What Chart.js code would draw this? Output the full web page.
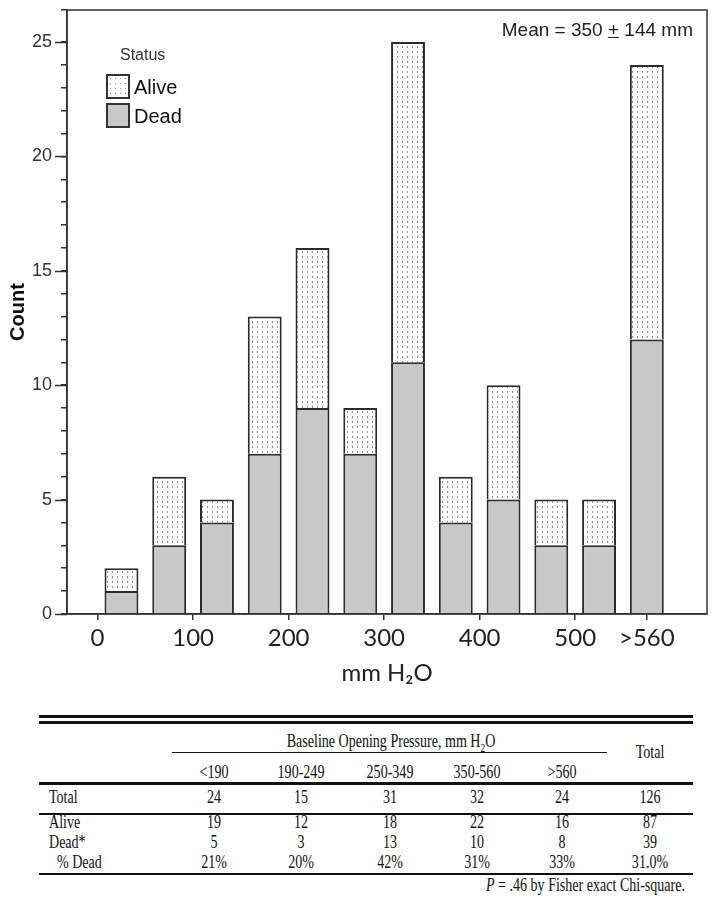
<!DOCTYPE html>
<html>
<head>
<meta charset="utf-8">
<script src="https://cdn.jsdelivr.net/npm/chart.js@4.4.0/dist/chart.umd.min.js"></script>
<style>
    body { margin: 0; background: #fff; width: 719px; height: 901px; overflow: hidden; position: relative; }
    #wrap { position: absolute; left: 0; top: 0; width: 719px; height: 700px; }
    .lg { position: absolute; font-family: "Liberation Sans", Arial, sans-serif; color: #111; }
    .sw { position: absolute; width: 20px; height: 21px; border: 2px solid #333; }
    .tx { position: absolute; font-family: "Liberation Serif", "Times New Roman", serif; font-size: 18px; color: #111; white-space: nowrap; line-height: 1; }
    .rule { position: absolute; background: #111; }
</style>
</head>
<body>
<div id="wrap"><canvas id="histograma" width="719" height="700"></canvas></div>

<div class="lg" style="left:120px;top:46px;font-size:16px;color:#333">Status</div>
<div class="sw" style="left:106px;top:74px;background-color:#fff;background-image:radial-gradient(#8a8a8a 0.7px, transparent 0.9px);background-size:5px 5px"></div>
<div class="lg" style="left:134px;top:76px;font-size:20px">Alive</div>
<div class="sw" style="left:106px;top:103px;background:#c8c8c8"></div>
<div class="lg" style="left:134px;top:105px;font-size:20px">Dead</div>
<div class="lg" style="right:26px;top:19px;font-size:19px;color:#222">Mean = 350 <u>+</u> 144 mm</div>

<div id="tabla"></div>

<script>
// histogram bins (mm H2O), centres of 50-wide bins
const binCenters = [25, 75, 125, 175, 225, 275, 325, 375, 425, 475, 525, 575];
const deadCounts = [1, 3, 4, 7, 9, 7, 11, 4, 5, 3, 3, 12];
const aliveCounts = [1, 3, 1, 6, 7, 2, 14, 2, 5, 2, 2, 12];
const xTickValues = [0, 100, 200, 300, 400, 500, 575];
const xTickLabels = ['0', '100', '200', '300', '400', '500', '>560'];
const yMajorTicks = [0, 5, 10, 15, 20, 25];

// table under the chart
const pressureGroups = ['<190', '190-249', '250-349', '350-560', '>560', 'Total'];
const rowLabels = ['Total', 'Alive', 'Dead*', '% Dead'];
const totalRow = ['24', '15', '31', '32', '24', '126'];
const aliveRow = ['19', '12', '18', '22', '16', '87'];
const deadRow = ['5', '3', '13', '10', '8', '39'];
const pctDeadRow = ['21%', '20%', '42%', '31%', '33%', '31.0%'];

window.addEventListener('DOMContentLoaded', () => {

    const crearPatronPuntos = () => {
        const c = document.createElement('canvas');
        c.width = 5; c.height = 5;
        const p = c.getContext('2d');
        p.fillStyle = '#ffffff';
        p.fillRect(0, 0, 5, 5);
        p.fillStyle = '#8c8c8c';
        p.fillRect(2, 1, 1, 2);
        return p.createPattern(c, 'repeat');
    };

    const marcoYTicks = {
        id: 'marcoYTicks',
        afterDraw(chart) {
            const { ctx, chartArea: a, scales: { y } } = chart;
            ctx.save();
            ctx.strokeStyle = '#333';
            ctx.lineWidth = 1.5;
            ctx.strokeRect(a.left, a.top, a.right - a.left, a.bottom - a.top);
            yMajorTicks.forEach((v) => {
                const py = Math.round(y.getPixelForValue(v)) + 0.5;
                ctx.beginPath();
                ctx.moveTo(a.left - 12, py);
                ctx.lineTo(a.left, py);
                ctx.stroke();
            });
            ctx.restore();
        }
    };

    const ctx = document.getElementById('histograma').getContext('2d');
    const puntos = crearPatronPuntos();

    const data = {
        datasets: [
            {
                label: 'Dead',
                data: binCenters.map((x, i) => ({ x, y: deadCounts[i] })),
                backgroundColor: '#c8c8c8',
                borderColor: '#2b2b2b',
                borderWidth: 2,
                barPercentage: 0.71,
                categoryPercentage: 1
            },
            {
                label: 'Alive',
                data: binCenters.map((x, i) => ({ x, y: aliveCounts[i] })),
                backgroundColor: puntos,
                borderColor: '#2b2b2b',
                borderWidth: 2,
                barPercentage: 0.71,
                categoryPercentage: 1
            }
        ]
    };

    new Chart(ctx, {
        type: 'bar',
        data,
        plugins: [marcoYTicks],
        options: {
            responsive: false,
            animation: false,
            layout: { padding: { top: 10, right: 12, left: 0, bottom: 0 } },
            plugins: { legend: { display: false }, tooltip: { enabled: false } },
            scales: {
                x: {
                    type: 'linear',
                    stacked: true,
                    offset: false,
                    min: -32,
                    max: 638,
                    afterBuildTicks: (s) => { s.ticks = xTickValues.map((v) => ({ value: v })); },
                    afterFit: (s) => { s.height = 86; s.paddingLeft = 0; s.paddingRight = 0; },
                    ticks: {
                        autoSkip: false,
                        maxRotation: 0,
                        padding: 4,
                        color: '#222',
                        font: { family: 'Lato', size: 24 },
                        callback: (v, i) => xTickLabels[i]
                    },
                    grid: { display: true, offset: false, drawOnChartArea: false, tickLength: 6, color: '#333', lineWidth: 1.5 },
                    border: { display: true, color: '#333', width: 1.5 },
                    title: {
                        display: true,
                        text: 'mm H\u2082O',
                        color: '#222',
                        font: { family: 'Lato', size: 24 },
                        padding: { top: 0, bottom: 12 }
                    }
                },
                y: {
                    stacked: true,
                    min: 0,
                    max: 26.4,
                    afterFit: (s) => { s.width = 67; s.paddingTop = 0; s.paddingBottom = 0; },
                    ticks: {
                        stepSize: 1,
                        autoSkip: false,
                        padding: 9,
                        color: '#333',
                        font: { family: 'Liberation Sans', size: 18 },
                        callback: (v) => (v % 5 === 0 ? v : '')
                    },
                    grid: { display: true, drawOnChartArea: false, tickLength: 6, color: '#333', lineWidth: 1.5 },
                    border: { display: true, color: '#333', width: 1.5 },
                    title: {
                        display: true,
                        text: 'Count',
                        color: '#111',
                        font: { family: 'Liberation Sans', size: 20, weight: 'bold' },
                        padding: { top: 6, bottom: 0 }
                    }
                }
            }
        }
    });

    // tabla
    const tabla = document.getElementById('tabla');
    const escala = 0.78;
    const colX = [214, 301, 390, 477, 562, 650];

    const texto = (html, x, y, align = 'center') => {
        const d = document.createElement('div');
        d.className = 'tx';
        d.innerHTML = html;
        d.style.left = x + 'px';
        d.style.top = y + 'px';
        let tr = 'translate(-50%,-50%)';
        let origin = 'center center';
        if (align === 'left') { tr = 'translate(0,-50%)'; origin = 'left center'; }
        if (align === 'right') { tr = 'translate(-100%,-50%)'; origin = 'right center'; }
        d.style.transformOrigin = origin;
        d.style.transform = tr + ' scaleX(' + escala + ')';
        tabla.appendChild(d);
    };

    const linea = (x1, x2, y, h) => {
        const d = document.createElement('div');
        d.className = 'rule';
        d.style.left = x1 + 'px';
        d.style.width = (x2 - x1) + 'px';
        d.style.top = y + 'px';
        d.style.height = h + 'px';
        tabla.appendChild(d);
    };

    linea(39, 693, 715, 3);
    linea(39, 693, 721, 3);
    linea(172, 607, 752, 1);
    linea(39, 693, 782, 3);
    linea(39, 693, 813, 2);
    linea(39, 693, 873, 2);

    const esc = (s) => s.replace('<', '&lt;').replace('>', '&gt;');

    texto('Baseline Opening Pressure, mm H<sub style="font-size:12px">2</sub>O', 391, 743);
    texto(pressureGroups[5], colX[5], 752);
    pressureGroups.slice(0, 5).forEach((g, i) => texto(esc(g), colX[i], 772));

    const filas = [totalRow, aliveRow, deadRow, pctDeadRow];
    const filaY = [797, 822, 842, 862];
    filas.forEach((fila, r) => {
        texto(rowLabels[r], r === 3 ? 57 : 49, filaY[r], 'left');
        fila.forEach((v, i) => texto(v, colX[i], filaY[r]));
    });

    texto('<i>P</i> = .46 by Fisher exact Chi-square.', 685, 885, 'right');
});
</script>
</body>
</html>
